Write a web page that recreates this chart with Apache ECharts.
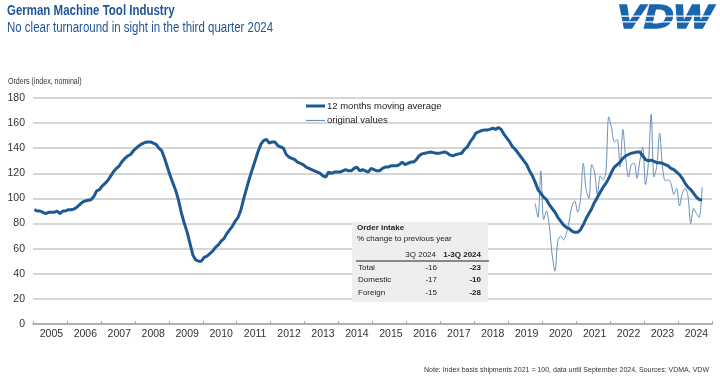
<!DOCTYPE html>
<html><head><meta charset="utf-8">
<script src="https://cdn.jsdelivr.net/npm/echarts@6/dist/echarts.min.js"></script>
<style>html,body{margin:0;padding:0;background:#fff}#c{width:720px;height:380px}</style>
</head><body><div id="c"></div>
<script>
// ---- DATA ----
const years = ['2005','2006','2007','2008','2009','2010','2011','2012','2013','2014',
               '2015','2016','2017','2018','2019','2020','2021','2022','2023','2024'];

// 12 months moving average, monthly from Jan 2005 to Sep 2024
const movingAverage = [
  91, 90, 90, 89, 88, 89, 89, 89, 90, 88, 90, 90,                 // 2005
  91, 91, 91.5, 93, 95, 97, 98, 98.5, 99, 101.5, 106, 107,        // 2006
  110, 112, 114.5, 118, 121.5, 124, 126, 129.5, 132, 134, 135, 138, // 2007
  140, 142, 143.5, 144.5, 145, 145, 144, 143, 140, 138, 132, 125, // 2008
  118, 112, 106, 98, 88, 80, 73, 64, 55, 51, 50, 50,              // 2009
  53, 54, 56, 58, 61, 63, 66, 68, 72, 75, 78, 82,                 // 2010
  85, 91, 100, 108, 116, 123, 130, 137, 143, 146, 147, 144,       // 2011
  145, 145, 142, 141, 140, 135, 133, 132, 131, 129, 128, 127,     // 2012
  125, 124, 123, 122, 121, 120, 118, 117, 121, 120, 121, 121,     // 2013
  121, 122, 123, 122, 122, 124, 125, 122, 123, 122, 121, 124,     // 2014
  123, 122, 122, 124, 125, 125, 126, 126, 126, 127, 129, 127,     // 2015
  128, 129, 129, 131, 134, 135.5, 136, 136.5, 137, 136.5, 136, 136, // 2016
  136.5, 137, 136, 134.5, 134, 135, 135.5, 136, 139, 141, 145, 148, // 2017
  152, 153, 154, 154.5, 154.5, 155, 156, 155, 156.5, 155, 151, 148, // 2018
  145, 141, 139, 136, 133, 130, 127, 122, 118, 113, 107, 104,     // 2019
  101, 99, 95, 92, 89, 85, 82, 79, 77, 76, 74, 73,                // 2020
  73, 75, 79, 84, 88, 92, 97, 101, 105, 109, 112, 116,            // 2021
  121, 125, 127, 129, 132, 134, 135, 136, 136.5, 137, 137, 134,   // 2022
  131, 130, 130.5, 129.5, 128.5, 128.5, 128, 127, 126, 124, 123, 121, // 2023
  119, 116, 112, 109, 107, 104, 101, 99, 99                       // 2024 (to Sep)
];

// original monthly values, Oct 2019 to Sep 2024
const originalStart = '2019-10';
const originalValues = [
  96, 85, 122,                                                    // 2019 Oct-Dec
  83, 90, 78, 55, 42, 66, 70, 67, 72, 82, 94, 98,                 // 2020
  89, 99, 128, 107, 100, 127, 121, 103, 118, 115, 121, 165,       // 2021
  156, 145, 147, 125, 155, 132, 117, 127, 128, 116, 130, 141,     // 2022
  111, 128, 167, 117, 126, 152, 125, 114, 115, 112, 103, 108,     // 2023
  94, 104, 108, 102, 80, 92, 88, 85, 109                          // 2024
];

const tableRows = ['Total', 'Domestic', 'Foreign'];
const tableQ3 = [-16, -17, -15];
const tableYTD = [-23, -10, -28];
const tableHeaders = ['3Q 2024', '1-3Q 2024'];

const seriesNames = ['12 months moving average', 'original values'];

// ---- BUILD ----
const months = [];
years.forEach(y => { for (let m = 1; m <= 12; m++) months.push(y + '-' + String(m).padStart(2, '0')); });
const startIdx = months.indexOf(originalStart);
const origData = months.map((_, i) => (i >= startIdx && i - startIdx < originalValues.length) ? originalValues[i - startIdx] : null);

const BLUE = '#1D5A94';
const THIN = '#6A90BC';
const TITLE = '#1F5597';
const SANS = "'Liberation Sans',Arial,sans-serif";
const NARROW_SCALE = 0.82;

const graphic = [
  { type: 'text', x: 7, y: 4, scaleX: NARROW_SCALE, style: { text: 'German Machine Tool Industry', font: 'bold 14px ' + SANS, fill: TITLE, verticalAlign: 'top' } },
  { type: 'text', x: 7, y: 21.5, scaleX: NARROW_SCALE, style: { text: 'No clear turnaround in sight in the third quarter 2024', font: '14px ' + SANS, fill: TITLE, verticalAlign: 'top' } },
  { type: 'text', x: 8, y: 77.5, scaleX: NARROW_SCALE, style: { text: 'Orders (index, nominal)', font: '8.6px ' + SANS, fill: '#333', verticalAlign: 'top' } },
  { type: 'text', x: 712, y: 1.5, scaleX: 1.2, style: { text: 'VDW', font: 'italic bold 34px ' + SANS, fill: '#1B64AE', stroke: '#1B64AE', lineWidth: 1.6, align: 'right', verticalAlign: 'top' } },
  { type: 'rect', shape: { x: 612, y: 15.4, width: 105, height: 1.3 }, style: { fill: '#fff' }, z: 10 },
  { type: 'rect', shape: { x: 612, y: 21.2, width: 105, height: 1.3 }, style: { fill: '#fff' }, z: 10 },
  { type: 'rect', shape: { x: 352, y: 222, width: 136, height: 80 }, style: { fill: '#EEEEEE' }, z: 10 },
  { type: 'text', x: 357, y: 228, style: { text: 'Order intake', font: 'bold 8px ' + SANS, fill: '#222', verticalAlign: 'middle' }, z: 11 },
  { type: 'text', x: 357, y: 239, style: { text: '% change to previous year', font: '8px ' + SANS, fill: '#222', verticalAlign: 'middle' }, z: 11 },
  { type: 'text', x: 436, y: 255, style: { text: tableHeaders[0], font: '8px ' + SANS, fill: '#222', align: 'right', verticalAlign: 'middle' }, z: 11 },
  { type: 'text', x: 481, y: 255, style: { text: tableHeaders[1], font: 'bold 8px ' + SANS, fill: '#222', align: 'right', verticalAlign: 'middle' }, z: 11 },
  { type: 'line', shape: { x1: 356, y1: 261, x2: 489, y2: 261 }, style: { stroke: '#666', lineWidth: 1.5 }, z: 11 }
];
tableRows.forEach((r, i) => {
  const y = 267.5 + i * 12.5;
  graphic.push({ type: 'text', x: 358, y: y, style: { text: r, font: '8px ' + SANS, fill: '#222', verticalAlign: 'middle' }, z: 11 });
  graphic.push({ type: 'text', x: 437, y: y, style: { text: String(tableQ3[i]), font: '8px ' + SANS, fill: '#222', align: 'right', verticalAlign: 'middle' }, z: 11 });
  graphic.push({ type: 'text', x: 481, y: y, style: { text: String(tableYTD[i]), font: 'bold 8px ' + SANS, fill: '#222', align: 'right', verticalAlign: 'middle' }, z: 11 });
});
graphic.push({ type: 'text', right: 11, top: 367, style: { text: 'Note: Index basis shipments 2021 = 100, data until September 2024, Sources: VDMA, VDW', font: '7px ' + SANS, fill: '#333' } });

const legendBase = {
  orient: 'horizontal', left: 301, itemWidth: 19, itemGap: 4, icon: 'rect',
  textStyle: { fontSize: 9.5, color: '#222', fontFamily: SANS, padding: [0, 0, 0, -3] }
};

const chart = echarts.init(document.getElementById('c'), null, { renderer: 'canvas' });
chart.setOption({
  animation: false,
  backgroundColor: '#fff',
  textStyle: { fontFamily: SANS },
  grid: { left: 33, right: 8, top: 98, bottom: 56 },
  legend: [
    Object.assign({}, legendBase, { top: 96, itemHeight: 3, data: [seriesNames[0]] }),
    Object.assign({}, legendBase, { top: 110.5, itemHeight: 1.2, data: [seriesNames[1]] })
  ],
  xAxis: {
    type: 'category', data: months, boundaryGap: true,
    axisLine: { lineStyle: { color: '#a6a6a6', width: 1.5 } },
    axisTick: { show: true, inside: true, length: 3, interval: (i) => i % 12 === 0, lineStyle: { color: '#a6a6a6' } },
    axisLabel: { interval: (i) => i % 12 === 6, formatter: v => v.slice(0, 4), color: '#333', fontSize: 10.5, margin: 5 },
    splitLine: { show: false }
  },
  yAxis: {
    type: 'value', min: 0, max: 180, interval: 20,
    axisLine: { show: false }, axisTick: { show: false },
    axisLabel: { color: '#333', fontSize: 10.5, margin: 8 },
    splitLine: { lineStyle: { color: '#c8c8c8', width: 1.5 } }
  },
  series: [
    { name: seriesNames[0], type: 'line', data: movingAverage, symbol: 'none', z: 3,
      lineStyle: { color: BLUE, width: 3 }, itemStyle: { color: BLUE } },
    { name: seriesNames[1], type: 'line', data: origData, symbol: 'none', z: 2, smooth: 0.3,
      lineStyle: { color: THIN, width: 1 }, itemStyle: { color: THIN } }
  ],
  graphic: graphic
});
</script></body></html>
